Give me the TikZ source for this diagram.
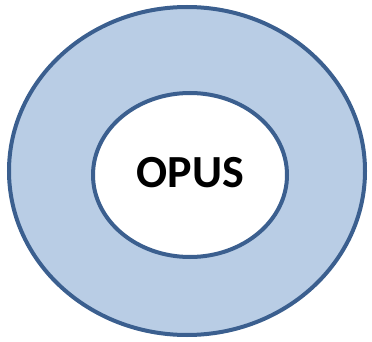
\documentclass[tikz,border=0pt]{standalone}
\usepackage{fontspec}
\setmainfont{Carlito}
\definecolor{ringfill}{HTML}{B9CDE5}
\definecolor{ringline}{HTML}{3B5F8F}
\begin{document}
\begin{tikzpicture}[x=1pt,y=-1pt,
  ring/.style={draw=ringline,line width=4pt}]
\useasboundingbox (0,0) rectangle (372,342);
\draw[ring,fill=ringfill] (187,171) ellipse [x radius=178, y radius=164];
\draw[ring,fill=white] (190,175) ellipse [x radius=97, y radius=82];
\node[font=\bfseries\fontsize{46}{52}\selectfont,inner sep=0pt,anchor=base] (opus) at (190.5,187) {OPUS};
\end{tikzpicture}
\end{document}
